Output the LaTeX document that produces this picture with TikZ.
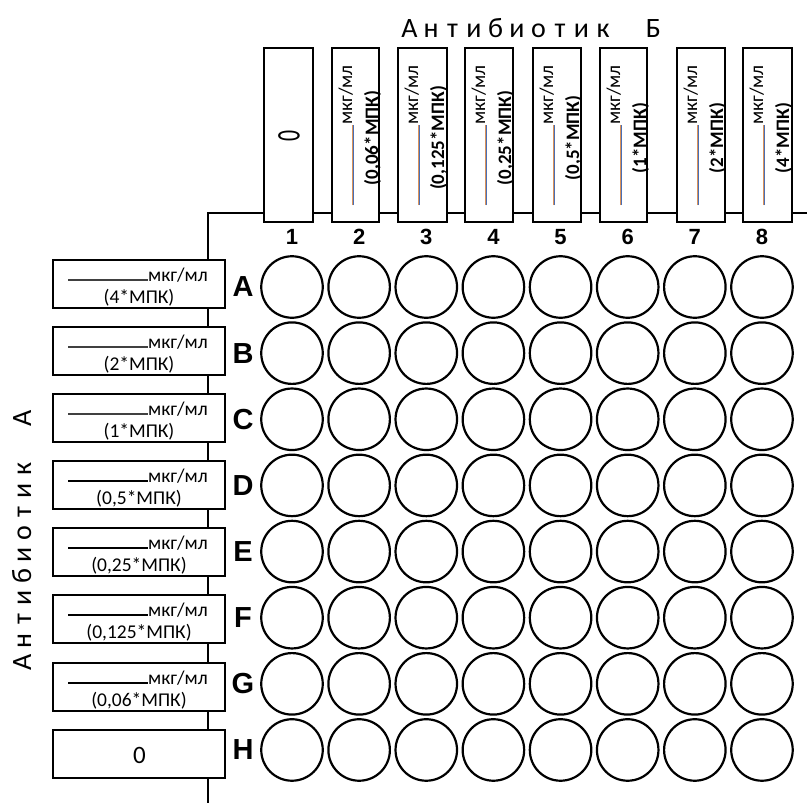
\documentclass[tikz,border=0pt]{standalone}
\usepackage{fontspec}
\setmainfont{Carlito}
\newfontfamily\arialfont{Liberation Sans}
\usetikzlibrary{calc}
\definecolor{ulorange}{HTML}{D9925A}
\definecolor{ulblue}{HTML}{4A6FB5}
\begin{document}
\begin{tikzpicture}[x=1pt,y=-1pt,
  well/.style={circle,draw,line width=2.2pt,minimum size=61.5pt,inner sep=0pt},
  topbox/.style={draw,line width=1.3pt,fill=white,minimum height=174pt,inner sep=0pt},
  leftbox/.style={draw,line width=1.3pt,fill=white,minimum width=172pt,minimum height=48pt,inner sep=0pt},
  smalltxt/.style={font=\fontsize{19.5}{19.5}\selectfont,inner sep=0pt},
  toplab/.style={font=\fontsize{19}{19}\selectfont\bfseries,inner sep=0pt},
  numlab/.style={font=\arialfont\bfseries\fontsize{22}{22}\selectfont,inner sep=0pt},
  rowlab/.style={font=\arialfont\bfseries\fontsize{29}{29}\selectfont,inner sep=0pt},
  titlelet/.style={font=\fontsize{28}{28}\selectfont,inner sep=0pt},
  plate/.style={line width=2pt}]
\useasboundingbox (0,0) rectangle (807,803);
% plate outline
\coordinate (pr) at (807,213);
\coordinate (pc) at (208,213);
\coordinate (pb) at (208,803);
\draw[plate] (pr) -- (pc) -- (pb);
% top title
\foreach \ch [count=\i from 0] in {А,н,т,и,б,и,о,т,и,к}
  \node[titlelet,anchor=base] (tt\i) at ({409.5+21.5*\i},37) {\ch};
\node[titlelet,anchor=base] (ttB) at (653.5,37) {Б};
% left title
\foreach \ch [count=\i from 0] in {А,н,т,и,б,и,о,т,и,к}
  \node[titlelet,anchor=base,rotate=90] (lt\i) at (31,{662.5-21.5*\i}) {\ch};
\node[titlelet,anchor=base,rotate=90] (ltA) at (31,418.5) {А};
% top boxes
\node[topbox,minimum width=49pt] (tb1) at (288.5,135) {};
\node[rotate=90,inner sep=0pt,font=\fontsize{33}{33}\selectfont] (tz) at (289,136) {\scalebox{0.66}[1]{0}};
\foreach \l/\r/\lab [count=\i from 2] in {332/379/{(0,06*МПК)},398/447/{(0,125*МПК)},465/513/{(0,25*МПК)},533/581/{(0,5*МПК)},600/647/{(1*МПК)},677/725/{(2*МПК)},743/792/{(4*МПК)}}{
  \node[topbox,minimum width={\r-\l}] (tb\i) at ({(\l+\r)/2},135) {};
  \node[smalltxt,rotate=90,anchor=base east] (tm\i) at ({\l+20},65) {мкг/мл};
  \coordinate (uo\i) at ({\l+20.6},205);
  \coordinate (ub\i) at ({\l+21.3},205);
  \draw[ulorange,line width=0.6pt] (uo\i) -- (uo\i |- tm\i.base west);
  \draw[ulblue,line width=0.6pt] (ub\i) -- (ub\i |- tm\i.base west);
  \node[toplab,rotate=90,anchor=base] (tl\i) at ({\l+46},138) {\lab};
}
% column numbers
\foreach \i in {1,...,8}
  \node[numlab] (cn\i) at ({292+67.14*(\i-1)},237) {\i};
% left boxes
\foreach \t/\lab/\w/\c [count=\j from 1] in {260/{(4*МПК)}/1.2/black!75,327/{(2*МПК)}/1.2/black!75,394/{(1*МПК)}/1.2/black!75,461/{(0,5*МПК)}/2/black,528/{(0,25*МПК)}/2/black,595/{(0,125*МПК)}/2/black,663/{(0,06*МПК)}/2/black}{
  \node[leftbox] (lb\j) at (139,{\t+24}) {};
  \node[smalltxt,anchor=base east] (lm\j) at (208,{\t+21}) {мкг/мл};
  \coordinate (lu\j) at (68,{\t+20});
  \draw[line width=\w pt,\c] (lu\j) -- (lu\j -| lm\j.base west);
  \node[smalltxt,anchor=base] (ll\j) at (139,{\t+43}) {\lab};
}
\node[leftbox] (lb8) at (139,754) {};
\node[inner sep=0pt,font=\fontsize{25}{25}\selectfont] (lz) at (139.5,755) {0};
% row letters and wells
\foreach \r [count=\j from 1] in {A,B,C,D,E,F,G,H}{
  \node[rowlab] (rl\j) at (243,{287+66.14*(\j-1)}) {\r};
  \foreach \c in {1,...,8}
    \node[well] (w\j-\c) at ({292+67.14*(\c-1)},{287+66.14*(\j-1)}) {};
}
\end{tikzpicture}
\end{document}
